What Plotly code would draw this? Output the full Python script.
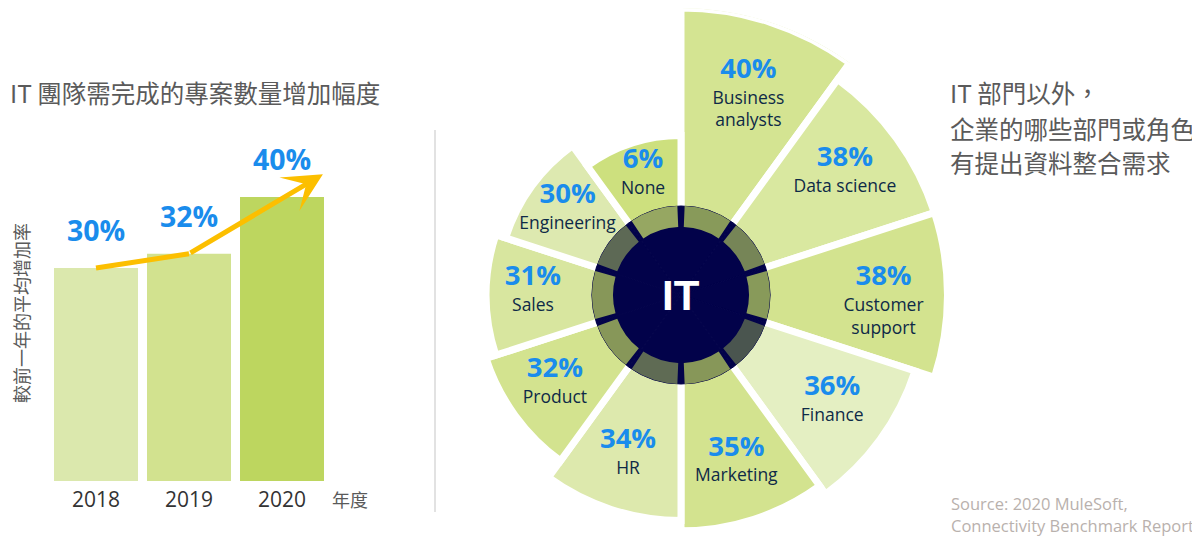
import plotly.graph_objects as go

# Left panel: growth of IT project volume vs previous year
years = ["2018", "2019", "2020"]
growth = [30, 32, 40]

# Right panel: departments besides IT asking for data integration
depts = ["Business<br>analysts", "Data science", "Customer<br>support", "Finance",
         "Marketing", "HR", "Product", "Sales", "Engineering", "None"]
dept_pct = [40, 38, 38, 36, 35, 34, 32, 31, 30, 6]

# the page body adds an 8px margin, so layout positions below are in page pixels minus 8
W, H = 1200, 574
OFF = 8
BLUE = "#1a8cec"
NAVY = "#02024a"
YELLOW = "#fcbf00"
GREY = "#5a5a5a"
LATIN = "Open Sans, Noto Sans CJK TC"
CJK = "Noto Sans CJK TC, Open Sans"

bar_colors = ["#dbe8ad", "#d2e28f", "#bdd65f"]
sector_colors = ["#d4e492", "#d9e8a0", "#d3e38f", "#e4efc2", "#d3e38f",
                 "#dde9ad", "#d3e38f", "#d8e69f", "#dde9b0", "#cde07e"]
ring_colors = ["#889a5a", "#768557", "#889a5a", "#4a554f", "#879759",
               "#5f6b54", "#879759", "#879759", "#5d6955", "#96a762"]
hidden_marker = dict(size=3, color="rgba(0,0,0,0)")


def px(x):
    return (x - OFF) / W


def py(y):
    return 1 - (y - OFF) / H


fig = go.Figure()

# ---------------- bar chart ----------------
fig.add_trace(go.Bar(
    x=years, y=growth, marker=dict(color=bar_colors, line=dict(width=0)),
    hoverinfo="skip", xaxis="x", yaxis="y",
))
fig.add_trace(go.Scatter(
    x=years[:2], y=growth[:2], mode="lines",
    line=dict(color=YELLOW, width=5), hoverinfo="skip", xaxis="x", yaxis="y",
))
# arrow continues past the last bar
fig.add_annotation(
    x=2.44, y=43.2, ax=1, ay=growth[1], xref="x", yref="y", axref="x", ayref="y",
    text="", showarrow=True, arrowhead=3, arrowsize=1.3, arrowwidth=5,
    arrowcolor=YELLOW, standoff=0,
)
for i, v in enumerate(growth):
    fig.add_annotation(
        x=i, y=v, xref="x", yref="y", yanchor="bottom", yshift=17,
        text=f"<b>{v}%</b>", showarrow=False, font=dict(size=28.5, color=BLUE, family=LATIN),
    )

# ---------------- polar chart ----------------
CX, CY = 681, 295     # page pixels
R = CY - OFF
R_MIN = 12            # radial axis starts here so the 30-40% wedges spread out
R_MAX = 40.0
NONE_MAX = 10.8       # the small "None" wedge gets its own radial scale
LABEL_FRAC = 0.76
ring_in = 68 / R * NONE_MAX
ring_out = 89 / R * NONE_MAX

fig.add_trace(go.Barpolar(
    r=dept_pct, theta=depts, subplot="polar",
    marker=dict(color=sector_colors, line=dict(color="white", width=7)),
    hoverinfo="skip",
))

main_idx = [i for i, d in enumerate(depts) if d != "None"]
none_idx = depts.index("None")
lab_r = [R_MIN + LABEL_FRAC * (dept_pct[i] - R_MIN) for i in main_idx]
lab_t = [depts[i] for i in main_idx]
fig.add_trace(go.Scatterpolar(
    r=lab_r, theta=lab_t, mode="markers+text", subplot="polar", marker=hidden_marker,
    text=[f"<b>{dept_pct[i]}%</b>" for i in main_idx], textposition="top center",
    textfont=dict(size=27.5, color=BLUE, family=LATIN), hoverinfo="skip",
))
fig.add_trace(go.Scatterpolar(
    r=lab_r, theta=lab_t, mode="markers+text", subplot="polar", marker=hidden_marker,
    text=lab_t, textposition="bottom center",
    textfont=dict(size=17.5, color="#0e2a47", family=LATIN), hoverinfo="skip",
))

# second polar layer: None wedge, dark ring and centre disc
fig.add_trace(go.Barpolar(
    r=[dept_pct[i] if i == none_idx else None for i in range(len(depts))],
    theta=depts, subplot="polar2",
    marker=dict(color=sector_colors[none_idx], line=dict(color="white", width=7)),
    hoverinfo="skip",
))
fig.add_trace(go.Barpolar(
    r=[ring_out] * len(depts), theta=depts, subplot="polar2",
    marker=dict(color=NAVY, line=dict(color=NAVY, width=1)), hoverinfo="skip",
))
fig.add_trace(go.Barpolar(
    r=[ring_out - ring_in] * len(depts), base=ring_in, theta=depts, width=0.87,
    subplot="polar2", marker=dict(color=ring_colors, line=dict(width=0)),
    hoverinfo="skip",
))
none_r = [0.77 * dept_pct[none_idx]]
fig.add_trace(go.Scatterpolar(
    r=none_r, theta=["None"], mode="markers+text", marker=hidden_marker,
    subplot="polar2", text=[f"<b>{dept_pct[none_idx]}%</b>"], textposition="top center",
    textfont=dict(size=27.5, color=BLUE, family=LATIN), hoverinfo="skip",
))
fig.add_trace(go.Scatterpolar(
    r=none_r, theta=["None"], mode="markers+text", marker=hidden_marker,
    subplot="polar2", text=["None"], textposition="bottom center",
    textfont=dict(size=17.5, color="#0e2a47", family=LATIN), hoverinfo="skip",
))

fig.add_annotation(x=px(CX), y=py(CY), xref="paper", yref="paper", text="<b>IT</b>",
                   xanchor="center", yanchor="middle", showarrow=False,
                   font=dict(size=42, color="white", family="Arial"))

polar_common = dict(
    domain=dict(x=[px(CX) - R / W, px(CX) + R / W], y=[0, 1]),
    bgcolor="rgba(0,0,0,0)", bargap=0, barmode="overlay",
    angularaxis=dict(type="category", categoryorder="array", categoryarray=depts,
                     rotation=72, direction="clockwise", visible=False),
)

# ---------------- texts ----------------
fig.add_annotation(x=px(8), y=py(92), xref="paper", yref="paper", xanchor="left",
                   yanchor="middle", text="IT 團隊需完成的專案數量增加幅度", showarrow=False,
                   font=dict(size=24.5, color=GREY, family=CJK))
fig.add_annotation(x=px(21), y=py(313), xref="paper", yref="paper", textangle=-90,
                   xanchor="center", yanchor="middle",
                   text="較前一年的平均增加率", showarrow=False,
                   font=dict(size=18, color=GREY, family=CJK))
fig.add_annotation(x=px(350), y=py(499), xref="paper", yref="paper",
                   xanchor="center", yanchor="middle",
                   text="年度", showarrow=False, font=dict(size=18, color=GREY, family=CJK))
for txt, yy in [("IT 部門以外，", 92), ("企業的哪些部門或角色", 128), ("有提出資料整合需求", 162)]:
    fig.add_annotation(x=px(948), y=py(yy), xref="paper", yref="paper", xanchor="left",
                       yanchor="middle", text=txt, showarrow=False,
                       font=dict(size=24.5, color=GREY, family=CJK))
for txt, yy in [("Source: 2020 MuleSoft,", 503), ("Connectivity Benchmark Report", 525)]:
    fig.add_annotation(x=px(949), y=py(yy), xref="paper", yref="paper", xanchor="left",
                       yanchor="middle", text=txt, showarrow=False,
                       font=dict(size=16.5, color="#b9b1ad", family=LATIN))

fig.add_shape(type="line", xref="paper", yref="paper", x0=px(435), x1=px(435),
              y0=py(512), y1=py(130), line=dict(color="#d9d9d9", width=1.5))

fig.update_layout(
    width=W, height=H, margin=dict(l=0, r=0, t=0, b=0),
    paper_bgcolor="white", plot_bgcolor="white", showlegend=False, bargap=0.097,
    xaxis=dict(domain=[px(49.5), px(328.5)], type="category", range=[-0.5, 2.5],
               showgrid=False, zeroline=False, showline=False, ticks="", ticklabelstandoff=4,
               tickfont=dict(size=21, color="#333333", family=LATIN)),
    yaxis=dict(domain=[py(481), py(126)], range=[0, 50], visible=False),
    polar=dict(radialaxis=dict(range=[R_MIN, R_MAX], visible=False), **polar_common),
    polar2=dict(radialaxis=dict(range=[0, NONE_MAX], visible=False), **polar_common),
)

fig.write_html("out.html")
